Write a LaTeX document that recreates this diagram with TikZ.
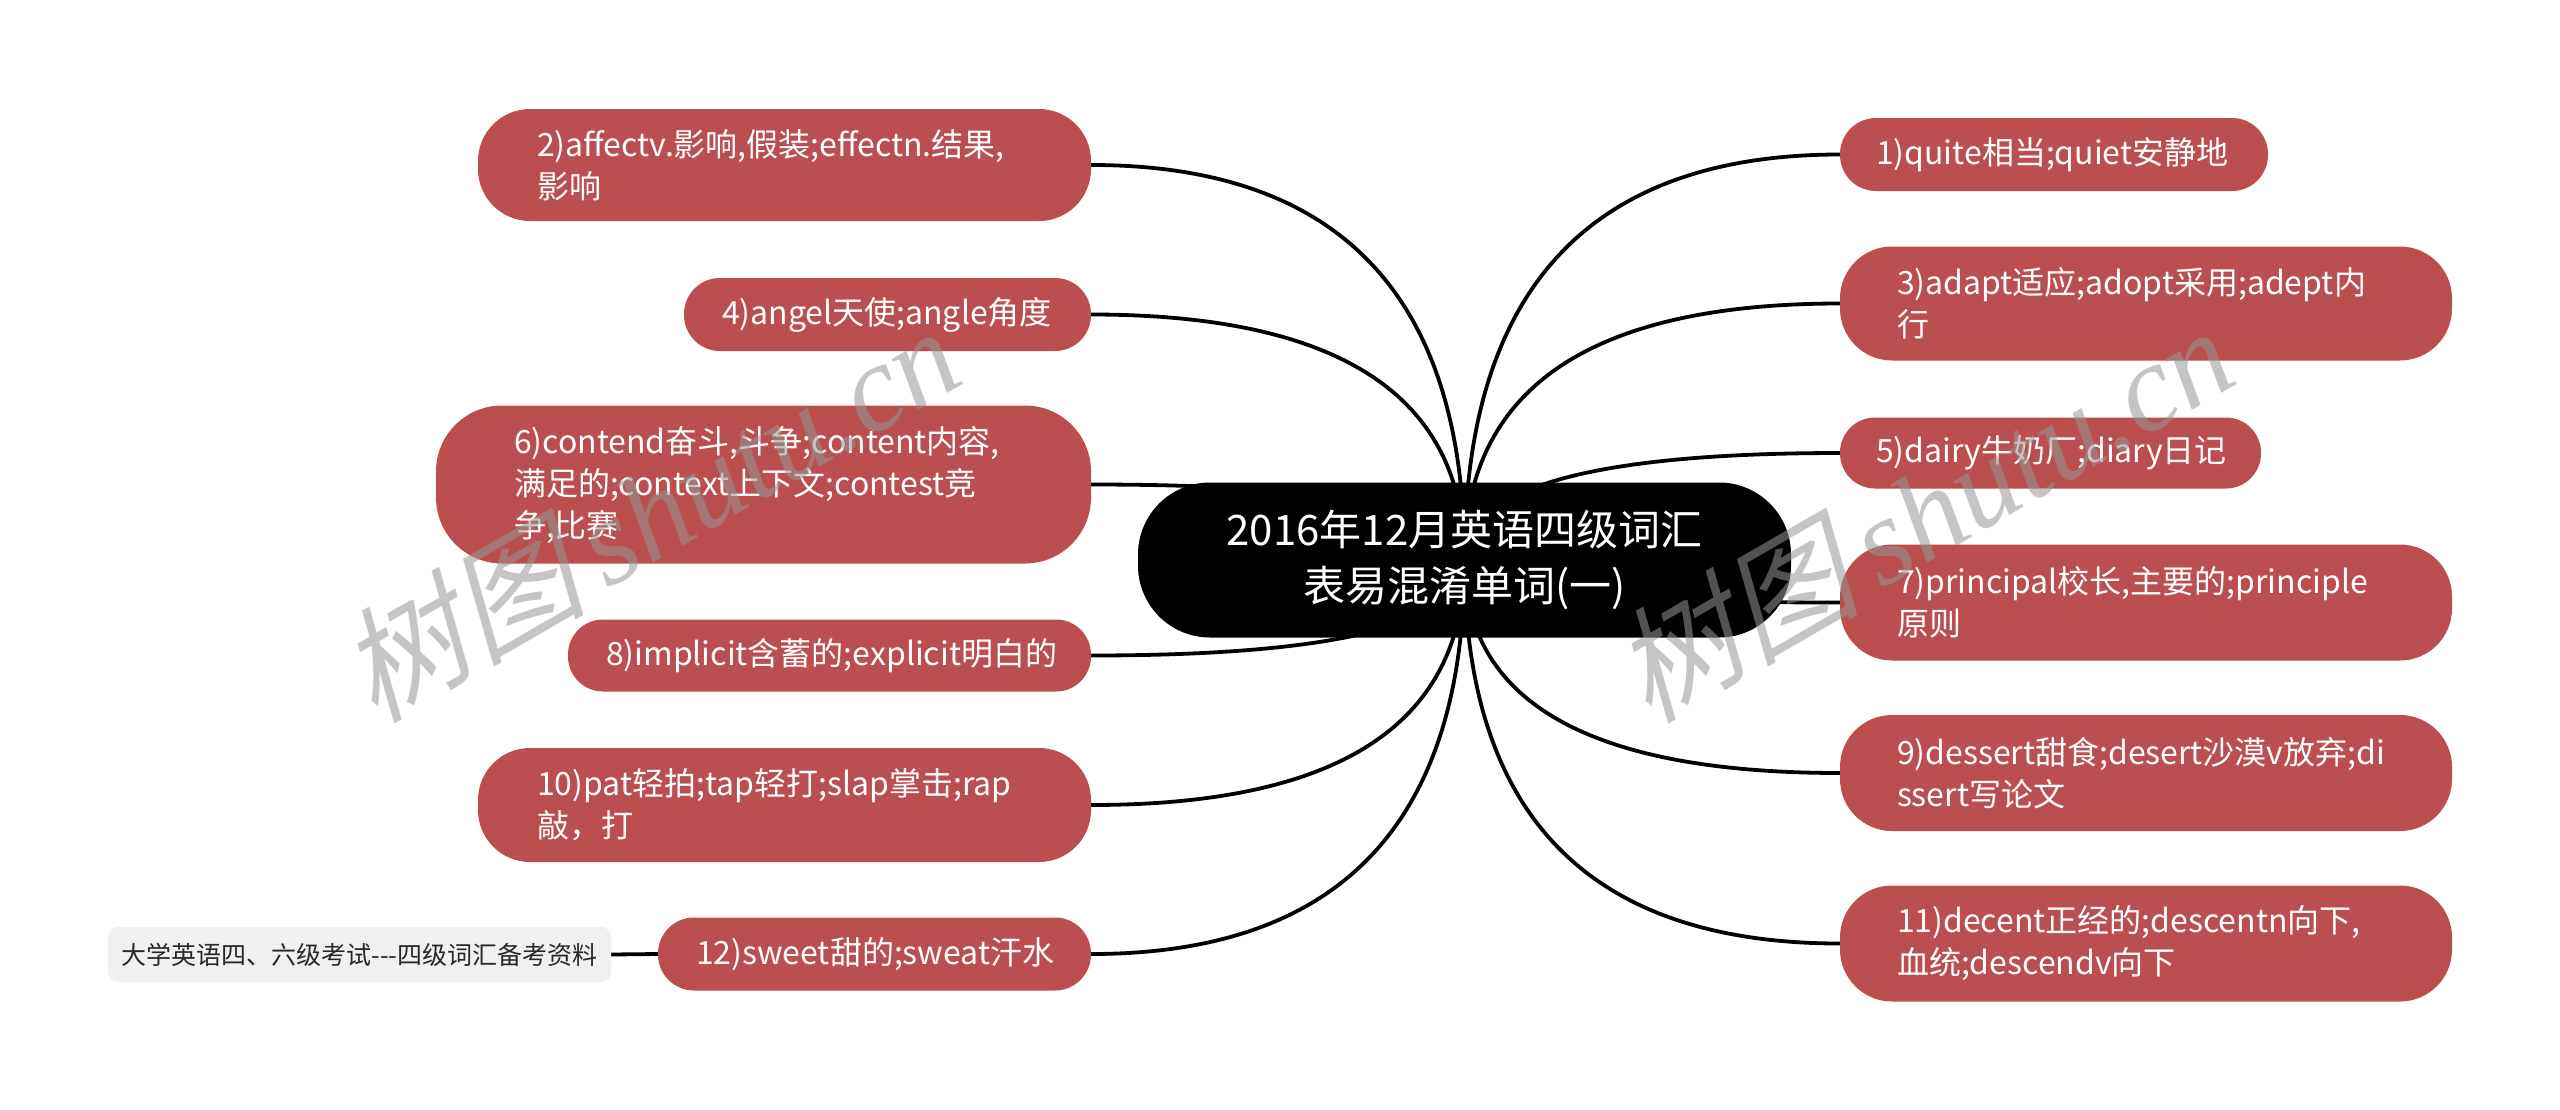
\documentclass[tikz,border=0pt]{standalone}
\usepackage{fontspec}
\setmainfont{Noto Sans CJK SC}
\newfontfamily\wmlat{Liberation Serif}
\newfontfamily\wmcjk[FakeSlant=0.25]{Noto Sans CJK SC}
\usetikzlibrary{calc,backgrounds}
\definecolor{nodered}{RGB}{187,78,78}
\definecolor{greybox}{RGB}{240,240,240}
\definecolor{wmgrey}{RGB}{150,150,150}
\definecolor{greytext}{RGB}{40,40,40}
\newcommand\mmL[1]{\draw[conn] (c.center) .. controls ($(c.center)!0.667!(c.center |- #1.east)$) and ($(#1.east)!0.667!(c.center |- #1.east)$) .. (#1.east);}
\newcommand\mmR[1]{\draw[conn] (c.center) .. controls ($(c.center)!0.667!(c.center |- #1.west)$) and ($(#1.west)!0.667!(c.center |- #1.west)$) .. (#1.west);}
\begin{document}
\begin{tikzpicture}[x=1pt,y=-1pt,
  box/.style={fill=nodered, inner sep=0pt},
  lbl/.style={anchor=west, text=white, align=left, inner sep=0pt, font=\fontsize{32}{42}\selectfont},
  conn/.style={line width=3.8pt, black},
  wm/.style={rotate=30, text=wmgrey, opacity=0.55, inner sep=0pt, font=\fontsize{124}{124}\selectfont}
]
\useasboundingbox (0,0) rectangle (2560,1109);

% centre
\node[fill=black, rounded corners=72pt, minimum width=653pt, minimum height=155pt, text=white, align=center, inner sep=0pt, font=\fontsize{42}{56}\selectfont] (c) at (1464.5,560) {2016年12月英语四级词汇\\表易混淆单词(一)};

% left branches
\node[box, rounded corners=52pt, minimum width=613pt, minimum height=112pt] (n2) at (784.5,165) {};
\node[lbl] (t2) at ([xshift=59pt]n2.west) {2)affectv.影响,假装;effectn.结果,\\影响};

\node[box, rounded corners=36pt, minimum width=407pt, minimum height=73pt] (n4) at (887.5,314.5) {};
\node[lbl] (t4) at ([xshift=38pt]n4.west) {4)angel天使;angle角度};

\node[box, rounded corners=66pt, minimum width=655pt, minimum height=158pt] (n6) at (763.5,484.5) {};
\node[lbl] (t6) at ([xshift=78pt]n6.west) {6)contend奋斗,斗争;content内容,\\满足的;context上下文;contest竞\\争,比赛};

\node[box, rounded corners=35pt, minimum width=523pt, minimum height=72pt] (n8) at (829.5,655.5) {};
\node[lbl] (t8) at ([xshift=38pt]n8.west) {8)implicit含蓄的;explicit明白的};

\node[box, rounded corners=52pt, minimum width=613pt, minimum height=114pt] (n10) at (784.5,805) {};
\node[lbl] (t10) at ([xshift=59pt]n10.west) {10)pat轻拍;tap轻打;slap掌击;rap\\敲，打};

\node[box, rounded corners=36pt, minimum width=433pt, minimum height=73pt] (n12) at (874.5,954) {};
\node[lbl] (t12) at ([xshift=38pt]n12.west) {12)sweet甜的;sweat汗水};

\node[fill=greybox, rounded corners=10pt, minimum width=503pt, minimum height=55pt, inner sep=0pt, text=greytext, font=\fontsize{25}{30}\selectfont] (g) at (359.5,954.5) {大学英语四、六级考试-{}-{}-四级词汇备考资料};

% right branches
\node[box, rounded corners=36pt, minimum width=428pt, minimum height=73pt] (n1) at (2054,154.5) {};
\node[lbl] (t1) at ([xshift=36pt]n1.west) {1)quite相当;quiet安静地};

\node[box, rounded corners=52pt, minimum width=612pt, minimum height=114pt] (n3) at (2146,303.5) {};
\node[lbl] (t3) at ([xshift=57pt]n3.west) {3)adapt适应;adopt采用;adept内\\行};

\node[box, rounded corners=35pt, minimum width=421pt, minimum height=71pt] (n5) at (2050.5,453) {};
\node[lbl] (t5) at ([xshift=36pt]n5.west) {5)dairy牛奶厂;diary日记};

\node[box, rounded corners=52pt, minimum width=612pt, minimum height=116pt] (n7) at (2146,602.5) {};
\node[lbl] (t7) at ([xshift=57pt]n7.west) {7)principal校长,主要的;principle\\原则};

\node[box, rounded corners=52pt, minimum width=612pt, minimum height=116pt] (n9) at (2146,773) {};
\node[lbl] (t9) at ([xshift=57pt]n9.west) {9)dessert甜食;desert沙漠v放弃;di\\ssert写论文};

\node[box, rounded corners=52pt, minimum width=612pt, minimum height=116pt] (n11) at (2146,943.5) {};
\node[lbl] (t11) at ([xshift=57pt]n11.west) {11)decent正经的;descentn向下,\\血统;descendv向下};

% connectors behind
\begin{scope}[on background layer]
\fill[white] (0,0) rectangle (2560,1109);
\mmL{n2}\mmL{n4}\mmL{n6}\mmL{n8}\mmL{n10}\mmL{n12}
\mmR{n1}\mmR{n3}\mmR{n5}\mmR{n7}\mmR{n9}\mmR{n11}
\draw[conn] (g.east) -- (n12.west);
\end{scope}

% watermarks
\node[wm] (w1) at (648,512) {{\wmcjk 树图}\,{\wmlat\itshape shutu.cn}};
\node[wm] (w2) at (1922,512) {{\wmcjk 树图}\,{\wmlat\itshape shutu.cn}};
\end{tikzpicture}
\end{document}
